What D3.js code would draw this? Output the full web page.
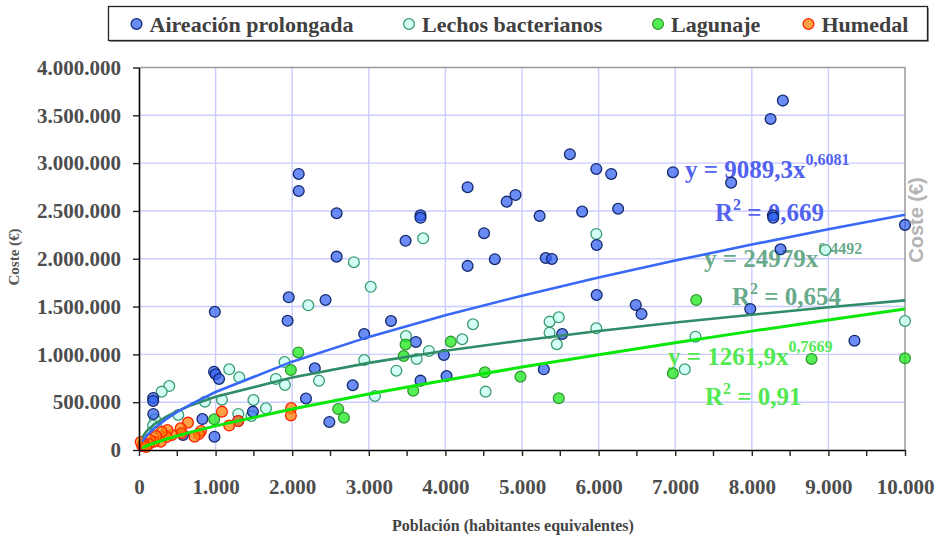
<!DOCTYPE html>
<html>
<head>
<meta charset="utf-8">
<script src="https://cdn.jsdelivr.net/npm/d3@7"></script>
<style>
  body { margin: 0; background: #fff; }
  #chart { width: 935px; height: 539px; }
</style>
</head>
<body>
<div id="chart"></div>
<script>
// --- datos (población, coste €) ---
const aireacion = [
  [990, 1445000], [1955, 1597000], [1940, 1351000], [2085, 2887000], [2085, 2709000],
  [2580, 2476000], [2580, 2022000], [3480, 2188000], [3675, 2455000], [3675, 2428000],
  [2435, 1569000], [3290, 1349000], [2940, 1213000], [3615, 1130000], [3980, 994000],
  [4290, 2748000], [4505, 2267000], [4290, 1925000], [4645, 1995000], [4800, 2597000],
  [4915, 2667000], [5230, 2448000], [5310, 2008000], [5390, 1998000], [5625, 3093000],
  [5785, 2493000], [5970, 2939000], [6165, 2887000], [6255, 2523000], [5975, 2144000],
  [5975, 1621000], [5525, 1213000], [2295, 855000], [2180, 539000], [2790, 677000],
  [3675, 725000], [4015, 774000], [5285, 844000], [2485, 293000], [6970, 2905000],
  [7730, 2796000], [8275, 2455000], [8280, 2430000], [8375, 2099000], [10000, 2354000],
  [6485, 1517000], [6560, 1422000], [7980, 1475000], [9340, 1143000], [8405, 3654000],
  [8245, 3462000], [980, 819000], [1000, 792000], [1045, 743000], [185, 544000],
  [185, 513000], [187, 377000], [828, 324000], [985, 139000], [575, 157000],
  [1487, 401000], [1296, 303000]
];
const lechos = [
  [2210, 1513000], [2805, 1964000], [3025, 1707000], [3710, 2214000], [3485, 1192000],
  [3785, 1036000], [2940, 941000], [1900, 920000], [4360, 1315000], [4220, 1158000],
  [3625, 952000], [3360, 829000], [2350, 725000], [3080, 565000], [4525, 610000],
  [5360, 1342000], [5480, 1388000], [5360, 1227000], [5455, 1106000], [5970, 2259000],
  [5970, 1273000], [8960, 2092000], [7265, 1185000], [7125, 844000], [10000, 1349000],
  [395, 669000], [296, 610000], [209, 321000], [183, 256000], [513, 366000],
  [861, 505000], [1083, 526000], [1178, 844000], [1309, 760000], [1296, 377000],
  [1494, 523000], [1657, 436000], [1468, 356000], [1787, 743000], [1905, 680000],
  [235, 227000]
];
const lagunaje = [
  [2080, 1020000], [3480, 1104000], [3455, 983000], [4070, 1133000], [3580, 620000],
  [4515, 813000], [4980, 767000], [5480, 541000], [2600, 429000], [2675, 338000],
  [7275, 1569000], [6970, 802000], [8780, 952000], [10000, 959000], [1983, 837000],
  [982, 321000]
];
const humedal = [
  [1083, 401000], [1987, 439000], [1983, 361000], [1296, 303000], [1178, 256000],
  [809, 199000], [783, 167000], [639, 286000], [544, 227000], [557, 175000],
  [430, 157000], [372, 209000], [361, 136000], [296, 191000], [283, 87000],
  [222, 146000], [196, 87000], [144, 105000], [130, 63000], [65, 63000],
  [43, 42000], [22, 84000], [91, 31000], [726, 139000]
];

// líneas de tendencia
const trendX = [40, 100, 200, 350, 500, 700, 1000, 2000, 3000, 4000, 5000, 6000, 7000, 8000, 9000, 10000];
const trendAireacion = [86000, 150000, 228000, 320000, 398000, 488000, 606000, 924000, 1183000, 1409000, 1614000, 1803000, 1981000, 2148000, 2308000, 2460000];
const trendLechos = [131000, 198000, 270000, 347000, 407000, 474000, 556000, 759000, 911000, 1037000, 1146000, 1244000, 1333000, 1415000, 1492000, 1565000];
const trendLagunaje = [21000, 43000, 73000, 113000, 148000, 192000, 252000, 429000, 586000, 730000, 867000, 997000, 1122000, 1243000, 1360000, 1474000];

const seriesNames = ["Aireación prolongada", "Lechos bacterianos", "Lagunaje", "Humedal"];
const eqMain = ["y = 9089,3x", "y = 24979x", "y = 1261,9x"];
const eqExp = ["0,6081", "0,4492", "0,7669"];
const r2Values = ["0,669", "0,654", "0,91"];

const xTicks = d3.range(0, 10001, 1000);
const xMinorTicks = d3.range(0, 10001, 500);
const yTicks = d3.range(0, 4000001, 500000);

// === SETUP ===
const width = 935, height = 539;
const svg = d3.select("#chart").append("svg")
  .attr("width", width)
  .attr("height", height);

const serif = "'Palatino Linotype', 'Book Antiqua', 'Liberation Serif', serif";
const fmt = d3.formatLocale({ decimal: ",", thousands: ".", grouping: [3], currency: ["", ""] }).format(",.0f");

const x = d3.scaleLinear().domain([0, 10000]).range([139, 905]);
const y = d3.scaleLinear().domain([0, 4000000]).range([450, 67.5]);

// --- estilos de serie ---
const styles = {
  aireacion: { fill: "rgba(48,96,240,0.72)", stroke: "#13296e" },
  lechos: { fill: "rgba(205,255,245,0.85)", stroke: "#3a9a72" },
  lagunaje: { fill: "rgba(20,232,20,0.72)", stroke: "#2f9c2f" },
  humedal: { fill: "rgba(255,125,0,0.72)", stroke: "#ff2200" }
};

// --- rejilla ---
const grid = svg.append("g");
grid.selectAll(".vg")
  .data(xTicks.filter(d => d > 0 && d < 10000))
  .join("line")
  .attr("x1", d => x(d)).attr("x2", d => x(d))
  .attr("y1", y(0)).attr("y2", y(4000000))
  .attr("stroke", "#ccccff").attr("stroke-width", 1.4);
grid.selectAll(".hg")
  .data(yTicks.filter(d => d > 0 && d < 4000000))
  .join("line")
  .attr("x1", x(0)).attr("x2", x(10000))
  .attr("y1", d => y(d)).attr("y2", d => y(d))
  .attr("stroke", "#ccccff").attr("stroke-width", 1.4);

// borde superior y derecho
svg.append("path")
  .attr("d", `M${x(0)},${y(4000000)}H${x(10000)}V${y(0)}`)
  .attr("fill", "none")
  .attr("stroke", "#9a9a9a")
  .attr("stroke-width", 1.5);

// --- ecuaciones ---
const eqColors = ["#5262f0", "#68aa8a", "#52e852"];
const eqPos = [
  { ex: 685, ey: 178, rx: 715, ry: 221 },
  { ex: 704, ey: 267, rx: 732, ry: 305 },
  { ex: 668, ey: 365, rx: 705, ry: 405 }
];
eqMain.forEach((t, i) => {
  const p = eqPos[i];
  const e = svg.append("text")
    .attr("x", p.ex).attr("y", p.ey)
    .attr("font-family", serif).attr("font-weight", "bold")
    .attr("font-size", 25).attr("fill", eqColors[i]);
  e.append("tspan").text(t);
  e.append("tspan").attr("dy", -13).attr("font-size", 16).text(eqExp[i]);

  const r = svg.append("text")
    .attr("x", p.rx).attr("y", p.ry)
    .attr("font-family", serif).attr("font-weight", "bold")
    .attr("font-size", 25).attr("fill", eqColors[i]);
  r.append("tspan").text("R");
  r.append("tspan").attr("dy", -11).attr("font-size", 16).text("2");
  r.append("tspan").attr("dy", 11).text(" = " + r2Values[i]);
});

// --- puntos ---
const drawSeries = (data, st) => {
  svg.append("g").selectAll("circle")
    .data(data)
    .join("circle")
    .attr("cx", d => x(d[0]))
    .attr("cy", d => y(d[1]))
    .attr("r", 5.4)
    .attr("fill", st.fill)
    .attr("stroke", st.stroke)
    .attr("stroke-width", 1.3);
};
drawSeries(lechos, styles.lechos);
drawSeries(aireacion, styles.aireacion);
drawSeries(lagunaje, styles.lagunaje);
drawSeries(humedal, styles.humedal);

// --- tendencias ---
const line = d3.line()
  .x(d => x(d[0]))
  .y(d => y(d[1]));
[
  { vals: trendLechos, color: "#2f8c66", w: 2.6 },
  { vals: trendAireacion, color: "#3868f8", w: 2.6 },
  { vals: trendLagunaje, color: "#0ae80a", w: 3 }
].forEach(t => {
  svg.append("path")
    .datum(trendX.map((xv, i) => [xv, t.vals[i]]))
    .attr("fill", "none")
    .attr("stroke", t.color)
    .attr("stroke-width", t.w)
    .attr("d", line);
});

// --- ejes ---
const yAxis = svg.append("g")
  .attr("transform", `translate(${x(0)},0)`)
  .call(d3.axisLeft(y).tickValues(yTicks).tickFormat(fmt).tickSize(6).tickSizeOuter(0).tickPadding(12));
yAxis.select(".domain").attr("stroke", "#000").attr("stroke-width", 1.6);
yAxis.selectAll("line").attr("stroke", "#222").attr("stroke-width", 1.4);
yAxis.selectAll("text")
  .attr("font-family", serif).attr("font-weight", "bold")
  .attr("font-size", 21).attr("fill", "#4d4d4d");

const xAxis = svg.append("g")
  .attr("transform", `translate(0,${y(0)})`)
  .call(d3.axisBottom(x).tickValues(xTicks).tickFormat(fmt).tickSize(6).tickSizeOuter(0).tickPadding(23));
xAxis.select(".domain").attr("stroke", "#000").attr("stroke-width", 1.6);
xAxis.selectAll("line").attr("stroke", "#222").attr("stroke-width", 1.4);
xAxis.selectAll("text")
  .attr("font-family", serif).attr("font-weight", "bold")
  .attr("font-size", 21).attr("fill", "#4d4d4d");
xAxis.selectAll(".minor")
  .data(xMinorTicks.filter(d => d % 1000 !== 0))
  .join("line")
  .attr("class", "minor")
  .attr("x1", d => x(d)).attr("x2", d => x(d))
  .attr("y1", 0).attr("y2", 6)
  .attr("stroke", "#222").attr("stroke-width", 1.4);

// --- títulos ---
svg.append("text")
  .attr("x", 513).attr("y", 531)
  .attr("text-anchor", "middle")
  .attr("font-family", serif).attr("font-weight", "bold")
  .attr("font-size", 16).attr("fill", "#444")
  .text("Población (habitantes equivalentes)");

svg.append("text")
  .attr("transform", "translate(19,257) rotate(-90)")
  .attr("text-anchor", "middle")
  .attr("font-family", serif).attr("font-weight", "bold")
  .attr("font-size", 15).attr("fill", "#555")
  .text("Coste (€)");

svg.append("text")
  .attr("transform", "translate(923,220) rotate(-90)")
  .attr("text-anchor", "middle")
  .attr("font-family", "'Liberation Sans', Arial, sans-serif").attr("font-weight", "bold")
  .attr("font-size", 20).attr("fill", "#b4b4b4")
  .text("Coste (€)");

// --- leyenda ---
const legend = svg.append("g");
legend.append("rect")
  .attr("x", 110).attr("y", 8).attr("width", 819).attr("height", 34)
  .attr("fill", "#9a9a9a");
legend.append("rect")
  .attr("x", 108.5).attr("y", 6.5).attr("width", 819).attr("height", 34)
  .attr("fill", "#fff").attr("stroke", "#222").attr("stroke-width", 1.3);

const legendStyles = [styles.aireacion, styles.lechos, styles.lagunaje, styles.humedal];
const legendX = [136.5, 409, 658, 808.5];
seriesNames.forEach((name, i) => {
  legend.append("circle")
    .attr("cx", legendX[i]).attr("cy", 24)
    .attr("r", 5.4)
    .attr("fill", legendStyles[i].fill)
    .attr("stroke", legendStyles[i].stroke)
    .attr("stroke-width", 1.3);
  legend.append("text")
    .attr("x", legendX[i] + 13).attr("y", 31.5)
    .attr("font-family", serif).attr("font-weight", "bold")
    .attr("font-size", 22).attr("fill", "#404040")
    .text(name);
});
</script>
</body>
</html>
